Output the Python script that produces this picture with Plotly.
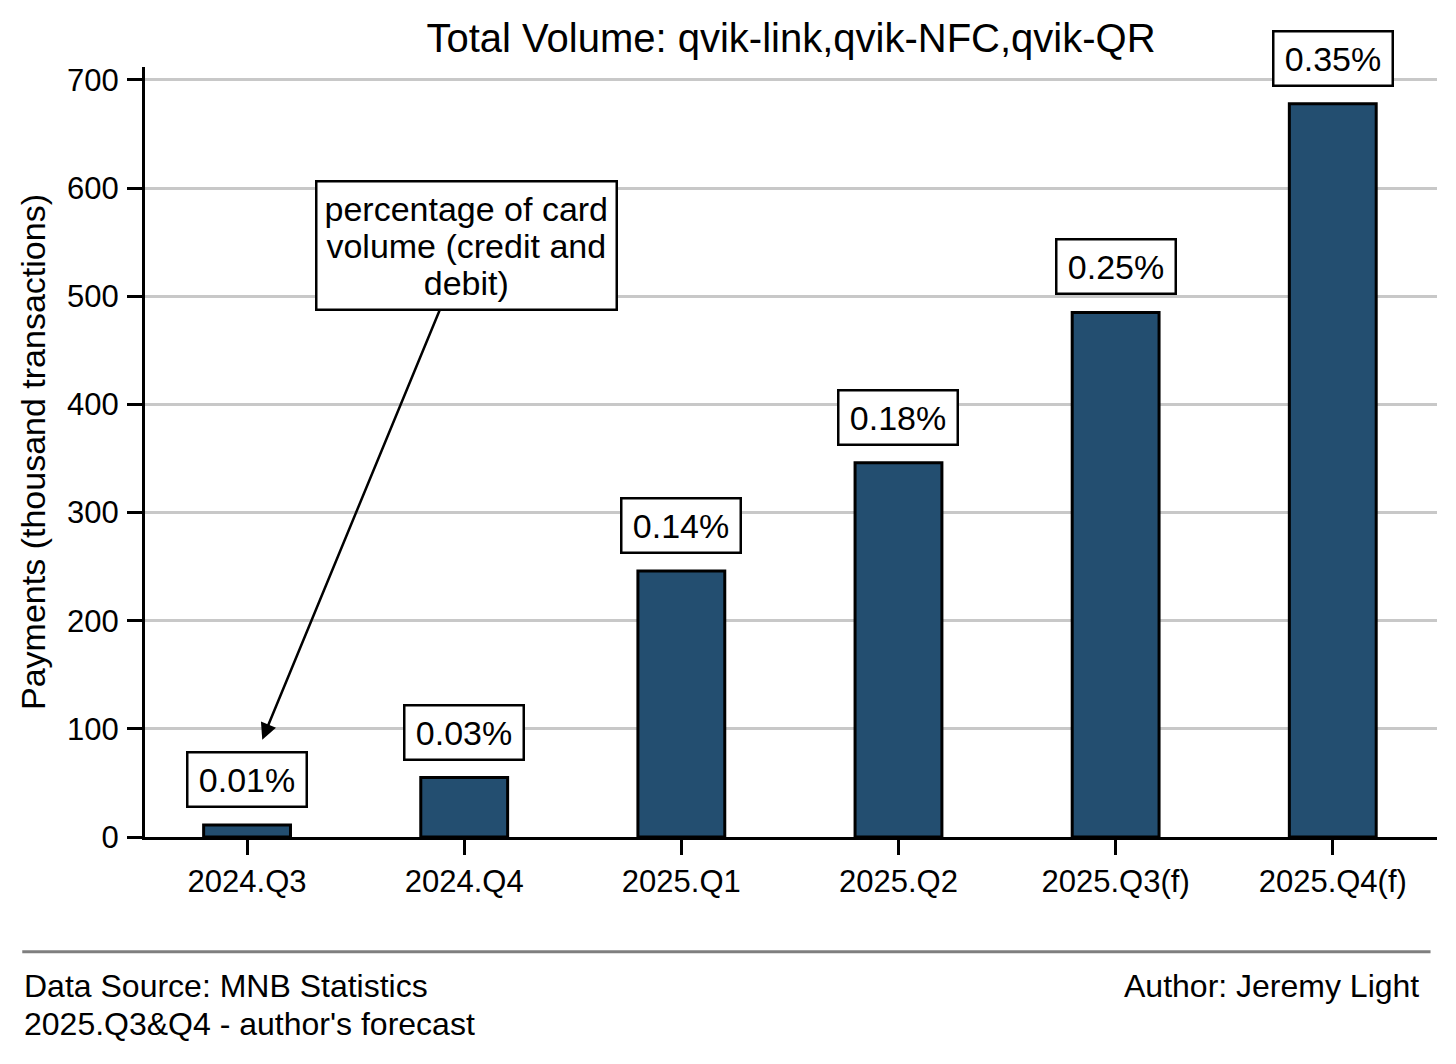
import plotly.graph_objects as go

categories = ["2024.Q3", "2024.Q4", "2025.Q1", "2025.Q2", "2025.Q3(f)", "2025.Q4(f)"]
payments = [11, 55, 246, 346, 485, 678]
share_labels = ["0.01%", "0.03%", "0.14%", "0.18%", "0.25%", "0.35%"]
y_ticks = [0, 100, 200, 300, 400, 500, 600, 700]

FONT = "Liberation Sans, Arial, sans-serif"
BAR_COLOR = "#234e70"

W, H = 1448, 1056  # page body has an 8px margin


def big(text, px):
    return f'<span style="font-size:{px}px">{text}</span>'


PADSP = '<span style="font-size:12px">&nbsp;</span>'

fig = go.Figure()
fig.add_trace(go.Bar(
    x=list(range(len(categories))),
    y=payments,
    width=0.4,
    marker=dict(color=BAR_COLOR, line=dict(color="black", width=3)),
    hoverinfo="skip",
))

for i, (v, lab) in enumerate(zip(payments, share_labels)):
    fig.add_annotation(
        x=i, y=v, xref="x", yref="y", text=PADSP + big(lab, 34) + PADSP, showarrow=False,
        yanchor="bottom", yshift=17,
        font=dict(family=FONT, size=30, color="black"),
        bgcolor="white", bordercolor="black", borderwidth=2.5, borderpad=7,
    )

note_lines = ["percentage of card", "volume (credit and", "debit)"]
fig.add_annotation(
    x=0.07, y=90, xref="x", yref="y",
    ax=1.01, ay=547, axref="x", ayref="y",
    text="<br>".join(big(t, 34) for t in note_lines),
    showarrow=True, arrowhead=2, arrowsize=1.3, arrowwidth=2.5, arrowcolor="black",
    font=dict(family=FONT, size=28.5, color="black"),
    bgcolor="white", bordercolor="black", borderwidth=2.5, borderpad=7,
    align="center",
)

# footer
fig.add_shape(type="line", xref="paper", yref="paper",
              x0=-0.095, x1=0.995, y0=-0.149, y1=-0.149,
              line=dict(color="#7f7f7f", width=3))
fig.add_annotation(xref="paper", yref="paper", x=-0.095, y=-0.168,
                   xanchor="left", yanchor="top", showarrow=False, align="left",
                   text=big("Data Source: MNB Statistics", 32) + "<br>" + big("2025.Q3&Q4 - author's forecast", 32),
                   font=dict(family=FONT, size=29, color="black"))
fig.add_annotation(xref="paper", yref="paper", x=0.988, y=-0.168,
                   xanchor="right", yanchor="top", showarrow=False, align="right",
                   text=big("Author: Jeremy Light", 32),
                   font=dict(family=FONT, size=29, color="black"))

fig.update_layout(
    width=W, height=H,
    margin=dict(l=137, r=19, t=59, b=227),
    paper_bgcolor="white", plot_bgcolor="white",
    showlegend=False,
    title=dict(text="Total Volume: qvik-link,qvik-NFC,qvik-QR", x=0.5, xref="paper", xanchor="center",
               y=1 - 30 / H, yanchor="middle", yref="container",
               font=dict(family=FONT, size=40, color="black")),
    xaxis=dict(
        range=[-0.47, 5.48], tickmode="array",
        tickvals=list(range(len(categories))), ticktext=categories,
        showline=True, linecolor="black", linewidth=3,
        ticks="outside", ticklen=15, tickwidth=3, tickcolor="black",
        showgrid=False, zeroline=False,
        tickfont=dict(family=FONT, size=31, color="black"),
    ),
    yaxis=dict(
        range=[0, 712], tickmode="array", tickvals=y_ticks,
        showline=True, linecolor="black", linewidth=3,
        ticks="outside", ticklen=15, tickwidth=3, tickcolor="black",
        ticklabelstandoff=2,
        showgrid=True, gridcolor="#c8c8c8", gridwidth=2.5, zeroline=False,
        tickfont=dict(family=FONT, size=31, color="black"),
        title=dict(text="Payments (thousand transactions)", standoff=12,
                   font=dict(family=FONT, size=34, color="black")),
    ),
)

fig.write_html("out.html")
